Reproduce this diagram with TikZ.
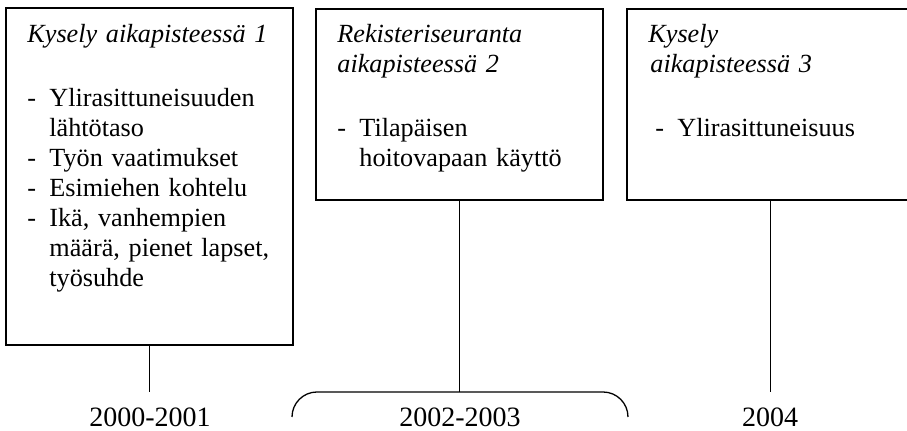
\documentclass[tikz,border=0pt]{standalone}
\usepackage{fontspec}
\setmainfont{Liberation Serif}
\newcommand{\dashitem}[1]{\makebox[11pt][l]{-}#1}
\newcommand{\dashcont}{\hspace*{11pt}}

\begin{document}
\begin{tikzpicture}[x=0.5pt, y=-0.5pt,
    box/.style={draw, line width=0.9pt, minimum width=143.5pt, inner sep=0pt},
    boxtext/.style={anchor=base west, inner sep=0pt, text width=135pt, align=left, font=\fontsize{13.1}{15}\selectfont},
    year/.style={anchor=base, inner sep=0pt, font=\fontsize{14}{16}\selectfont},
    link/.style={line width=0.65pt}]
    \useasboundingbox (0,0) rectangle (907,431);
    % boxes
    \node[box, minimum height=168.5pt] (b1) at (149.5,176.5) {};
    \node[box, minimum height=95.5pt] (b2) at (459.5,104.5) {};
    \node[box, minimum height=95.5pt] (b3) at (770.5,104.5) {};
    % box texts
    \node[boxtext] (t1) at (27,43) {\textit{Kysely aikapisteessä 1}\\[17pt]
        \dashitem{Ylirasittuneisuuden}\\ \dashcont lähtötaso\\
        \dashitem{Työn vaatimukset}\\ \dashitem{Esimiehen kohtelu}\\
        \dashitem{Ikä, vanhempien}\\ \dashcont määrä, pienet lapset,\\ \dashcont työsuhde};
    \node[boxtext] (t2) at (337,43) {\textit{Rekisteriseuranta}\\ \textit{aikapisteessä 2}\\[17pt]
        \dashitem{Tilapäisen}\\ \dashcont hoitovapaan käyttö};
    \node[boxtext] (t3) at (648,43) {\textit{Kysely}\\ \hspace*{1pt}\textit{aikapisteessä 3}\\[17pt]
        \hspace*{3.5pt}\dashitem{Ylirasittuneisuus}};
    % years
    \node[year] (y1) at (150,427) {2000-2001};
    \node[year] (y2) at (460,427) {2002-2003};
    \node[year] (y3) at (770,427) {2004};
    % connectors
    \coordinate (e1) at (149.5,392);
    \coordinate (e2) at (459.5,392);
    \coordinate (e3) at (770.5,392);
    \coordinate (bl) at (292,417);
    \coordinate (br) at (628,417);
    \draw[link] (b1.south) -- (e1);
    \draw[link] (b2.south) -- (e2);
    \draw[link] (b3.south) -- (e3);
    \draw[link, rounded corners=12.5pt] (bl) -- (bl |- e2) -- (br |- e2) -- (br);
\end{tikzpicture}
\end{document}
